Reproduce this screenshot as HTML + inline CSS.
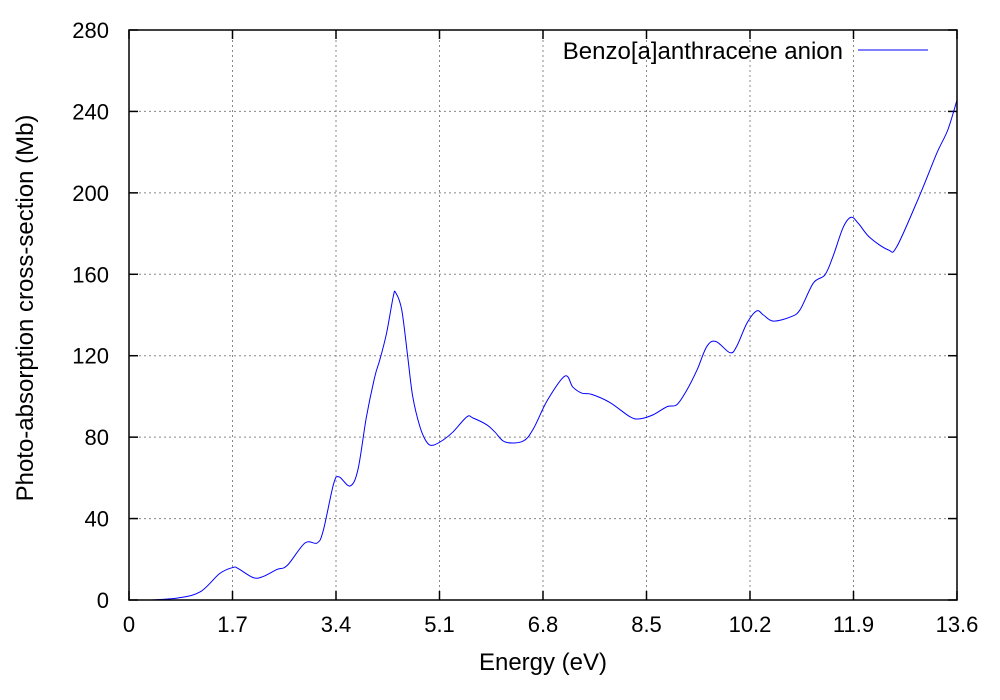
<!DOCTYPE html>
<html><head><meta charset="utf-8"><style>
body{margin:0;background:#fff;}
svg{display:block;font-family:"Liberation Sans",Arial,sans-serif;}
</style></head><body>
<svg id="chart" width="1000" height="700" viewBox="0 0 1000 700" xmlns="http://www.w3.org/2000/svg">
<rect x="0" y="0" width="1000" height="700" fill="#fff"/>
<g id="grid"></g>
<g id="ticks"></g>
<path id="series" fill="none" stroke="#0000ff" stroke-width="1"/>
<rect x="129" y="30" width="828" height="570" fill="none" stroke="#000" stroke-width="1.5"/>
<text x="543" y="670" font-size="24" text-anchor="middle">Energy (eV)</text>
<text transform="translate(33,308) rotate(-90)" font-size="24" text-anchor="middle">Photo-absorption cross-section (Mb)</text>
<g>
<text x="843" y="59" font-size="24" text-anchor="end">Benzo[a]anthracene anion</text>
<line x1="858" y1="50" x2="928" y2="50" stroke="#0000ff" stroke-width="1"/>
</g>
</svg>
<script>
const energies=[0.35,0.8,1.17,1.49,1.71,1.79,2.04,2.2,2.43,2.6,2.89,3.09,3.19,3.36,3.45,3.63,3.76,3.9,4.04,4.12,4.23,4.34,4.38,4.48,4.58,4.66,4.78,4.89,4.99,5.16,5.32,5.55,5.65,5.88,6.01,6.18,6.47,6.64,6.87,7.16,7.29,7.44,7.6,7.9,8.23,8.39,8.61,8.84,9.0,9.16,9.33,9.49,9.64,9.87,9.98,10.15,10.31,10.42,10.58,10.86,11.02,11.24,11.43,11.56,11.73,11.86,11.98,12.17,12.47,12.61,12.99,13.27,13.45,13.6];
const crossSection=[0,1,4,13,16,15.5,11,11.5,15,17,28,28,34,57,60.5,56,64,90,110,118,131,149,151,142.5,119,100,85,77.6,76,78.6,82.5,90,89.4,86,82.5,77.6,78,84,98,110,104.6,101.6,101,97,90,89,91,95,96,103,113,124.5,127,121.5,124.5,136,142,140,137,139,142.5,155.7,159.7,168.5,183,188,185,178,172,173.5,199,219.6,231,245.6];
const xTicks=[0,1.7,3.4,5.1,6.8,8.5,10.2,11.9,13.6];
const yTicks=[0,40,80,120,160,200,240,280];
const X0=129,X1=957,Y0=600,Y1=30,XMAX=13.6,YMAX=280;
const xs=v=>X0+(v/XMAX)*(X1-X0);
const ys=v=>Y0-(v/YMAX)*(Y0-Y1);
const NS="http://www.w3.org/2000/svg";
const grid=document.getElementById('grid'),ticks=document.getElementById('ticks');
function mk(tag,attrs,parent){const e=document.createElementNS(NS,tag);for(const k in attrs)e.setAttribute(k,attrs[k]);parent.appendChild(e);return e;}
xTicks.forEach((t,i)=>{
  const x=xs(t);
  if(i>0&&i<xTicks.length-1){const g=mk('line',{x1:x,y1:Y1,x2:x,y2:Y0,stroke:'#888','stroke-dasharray':'2,3','stroke-width':1},grid);
  
  }
  const tk=mk('line',{x1:x,y1:Y0,x2:x,y2:Y0-9,stroke:'#000','stroke-width':1.5},ticks);
  
  
  const tk2=mk('line',{x1:x,y1:Y1,x2:x,y2:Y1+9,stroke:'#000','stroke-width':1.5},ticks);
  
  
  const tx=mk('text',{x:x,y:632,'font-size':22,'text-anchor':'middle'},ticks);
  tx.textContent=t===0?'0':t.toFixed(1);
  
  
});
yTicks.forEach((t,i)=>{
  const y=ys(t);
  if(i>0&&i<yTicks.length-1){const g=mk('line',{x1:X0,y1:y,x2:X1,y2:y,stroke:'#888','stroke-dasharray':'2,3','stroke-width':1},grid);
  
  }
  const tk=mk('line',{x1:X0,y1:y,x2:X0+9,y2:y,stroke:'#000','stroke-width':1.5},ticks);
  
  
  const tk2=mk('line',{x1:X1,y1:y,x2:X1-9,y2:y,stroke:'#000','stroke-width':1.5},ticks);
  
  
  const tx=mk('text',{x:109,y:y+8,'font-size':22,'text-anchor':'end'},ticks);
  tx.textContent=String(t);
  
  
});
const pts=energies.map((e,i)=>[xs(e),ys(crossSection[i])]);
let d='M'+pts[0][0]+','+pts[0][1];
for(let i=0;i<pts.length-1;i++){
  const p0=pts[Math.max(0,i-1)],p1=pts[i],p2=pts[i+1],p3=pts[Math.min(pts.length-1,i+2)];
  const c1=[p1[0]+(p2[0]-p0[0])/6,p1[1]+(p2[1]-p0[1])/6];
  const c2=[p2[0]-(p3[0]-p1[0])/6,p2[1]-(p3[1]-p1[1])/6];
  d+=' C'+c1[0]+','+c1[1]+' '+c2[0]+','+c2[1]+' '+p2[0]+','+p2[1];
}
document.getElementById('series').setAttribute('d',d);
</script>
</body></html>
